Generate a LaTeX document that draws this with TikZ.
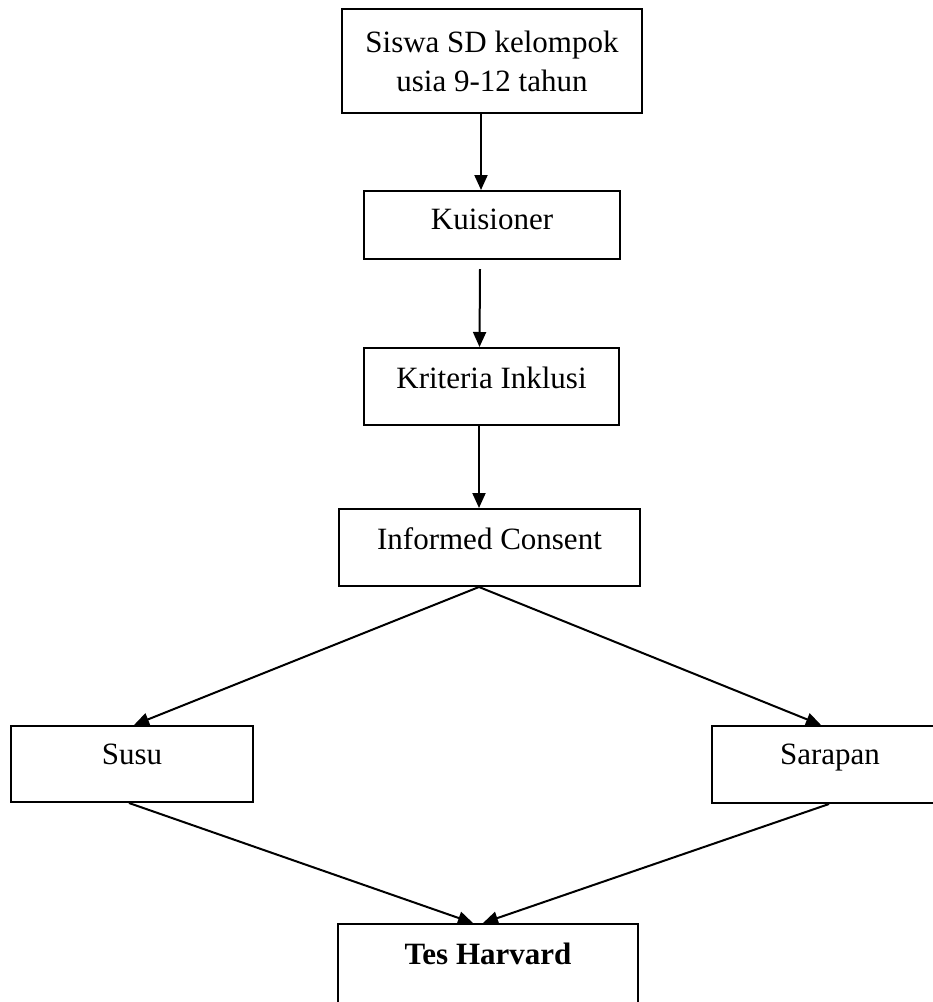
\documentclass[tikz,border=0pt]{standalone}
\usepackage{fontspec}
\setmainfont{Liberation Serif}
\usetikzlibrary{arrows.meta,calc}
\begin{document}
\begin{tikzpicture}[x=1pt,y=1pt,
  box/.style={draw, line width=2pt, inner sep=0pt, anchor=north west, font=\fontsize{31}{42}\selectfont},
  arr/.style={line width=2pt, -{Triangle[length=15pt,width=13pt]}}]
\useasboundingbox (0,0) rectangle (933,-1002);
\clip (0,0) rectangle (933,-1002);
\node[box, minimum width=300pt, minimum height=104pt, align=center] (siswa) at (341,-8) {Siswa SD kelompok\\[-3pt]usia 9-12 tahun};
\node[box, minimum width=256pt, text height=38pt, text depth=30pt] (kuis) at (363,-190) {Kuisioner};
\node[box, minimum width=255pt, text height=40pt, text depth=37pt] (krit) at (363,-347) {Kriteria Inklusi};
\node[box, minimum width=301pt, text height=40pt, text depth=37pt] (inf) at (338,-508) {Informed Consent};
\node[box, minimum width=242pt, text height=38pt, text depth=38pt] (susu) at (10,-725) {Susu};
\node[box, minimum width=236pt, text height=38pt, text depth=39pt] (sar) at (711,-725) {Sarapan};
\node[box, minimum width=300pt, text height=40pt, text depth=49pt, font=\fontsize{31}{42}\selectfont\bfseries] (tes) at (337,-923) {Tes Harvard};
\draw[arr] ([xshift=-11pt]siswa.south) -- ([xshift=-11pt]kuis.north);
\draw[arr] ([shift={(-12pt,-9pt)}]kuis.south) -- ([xshift=-12pt]krit.north);
\draw[arr] ([xshift=-12.5pt]krit.south) -- ([xshift=-10.5pt]inf.north);
\draw[arr] ([xshift=-10.5pt]inf.south) -- ([xshift=2pt]susu.north);
\draw[arr] ([xshift=-10.5pt]inf.south) -- ([xshift=-9pt]sar.north);
\draw[arr] ([xshift=-3pt]susu.south) -- ([xshift=-15pt]tes.north);
\draw[arr] ([xshift=-1pt]sar.south) -- ([xshift=-5pt]tes.north);
\end{tikzpicture}
\end{document}
